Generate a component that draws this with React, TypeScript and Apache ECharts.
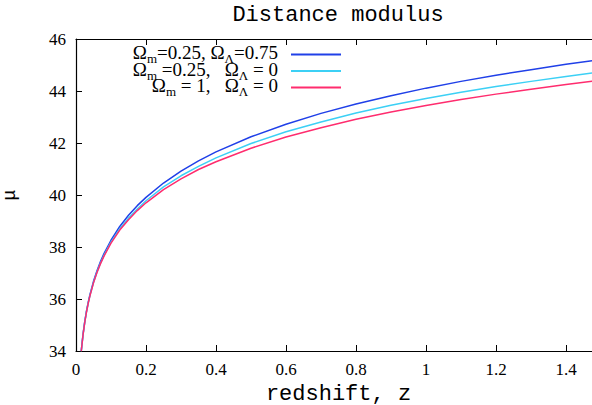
import React, { useEffect, useRef } from "react";
import * as echarts from "echarts";

// redshift samples
const redshift = [0.015, 0.02, 0.025, 0.03, 0.035, 0.04, 0.05, 0.06, 0.07, 0.08, 0.1, 0.125, 0.15, 0.175, 0.2, 0.25, 0.3, 0.35, 0.4, 0.5, 0.6, 0.7, 0.8, 0.9, 1.0, 1.1, 1.2, 1.3, 1.4, 1.5];
// distance modulus
const muFlatLambda = [34.0, 34.64, 35.13, 35.54, 35.88, 36.18, 36.68, 37.09, 37.44, 37.75, 38.26, 38.79, 39.22, 39.59, 39.91, 40.46, 40.92, 41.31, 41.66, 42.24, 42.72, 43.14, 43.5, 43.82, 44.11, 44.37, 44.61, 44.82, 45.03, 45.21];
const muOpen = [33.99, 34.61, 35.11, 35.51, 35.85, 36.14, 36.63, 37.04, 37.38, 37.68, 38.19, 38.7, 39.11, 39.46, 39.78, 40.31, 40.74, 41.1, 41.43, 41.98, 42.43, 42.81, 43.15, 43.45, 43.71, 43.95, 44.17, 44.37, 44.56, 44.74];
const muEdS = [33.99, 34.61, 35.1, 35.5, 35.84, 36.13, 36.62, 37.02, 37.36, 37.65, 38.15, 38.65, 39.05, 39.4, 39.7, 40.21, 40.62, 40.98, 41.28, 41.8, 42.23, 42.59, 42.91, 43.19, 43.44, 43.67, 43.88, 44.07, 44.25, 44.42];

const seriesNames = ["lcdm", "open", "eds"];
const legendLabels: Record<string, string> = {
  lcdm: "{o|Ω}{s|m}{o|=0.25, }{o|Ω}{s|Λ}{o|=0.75}",
  open: "{o|Ω}{s|m}{o| =0.25,   }{o|Ω}{s|Λ}{o| = 0}",
  eds: "{o|Ω}{s|m}{o| = 1,   }{o|Ω}{s|Λ}{o| = 0}",
};
const colors = ["#2040e8", "#3cd0f5", "#ff2c6e"];

const xMin = 0;
const xMax = 1.5;
const xStep = 0.2;
const yMin = 34;
const yMax = 46;
const yStep = 2;

const serif = "Liberation Serif";
const mono = "Liberation Mono";

export default function App() {
  const ref = useRef<HTMLDivElement>(null);
  useEffect(() => {
    if (!ref.current) return;
    const chart = echarts.init(ref.current, undefined, { renderer: "svg" });
    const allMu = [muFlatLambda, muOpen, muEdS];
    chart.setOption({
      animation: false,
      backgroundColor: "#ffffff",
      title: {
        text: "Distance modulus",
        left: 338,
        top: 4,
        padding: 0,
        textAlign: "center",
        textStyle: { fontFamily: mono, fontSize: 22, fontWeight: "normal", color: "#000" },
      },
      legend: {
        data: seriesNames,
        orient: "vertical",
        align: "right",
        right: 251,
        top: 43,
        padding: 0,
        itemGap: -6.5,
        itemWidth: 50,
        itemHeight: 2,
        icon: "rect",
        selectedMode: false,
        formatter: (name: string) => legendLabels[name],
        textStyle: {
          color: "#000",
          fontFamily: serif,
          fontSize: 19,
          padding: [0, 8, 0, 0],
          rich: {
            o: { fontSize: 19, lineHeight: 14, padding: [0, 0, 4, 0], fontFamily: serif, color: "#000" },
            s: { fontSize: 13, lineHeight: 10, padding: [8, 0, 0, 0], fontFamily: serif, color: "#000" },
          },
        },
      },
      grid: { left: 76, top: 39, width: 525, height: 312, containLabel: false, outerBoundsMode: "none" },
      xAxis: [
        {
          type: "value",
          min: xMin,
          max: xMax,
          interval: xStep,
          name: "redshift, z",
          nameLocation: "middle",
          nameGap: 32,
          nameTextStyle: { fontFamily: mono, fontSize: 22, color: "#000" },
          axisLine: { show: true, onZero: false, lineStyle: { color: "#000", width: 1.2 } },
          axisTick: { show: true, inside: true, length: 6, lineStyle: { color: "#000" } },
          axisLabel: { showMaxLabel: false, margin: 10, fontFamily: serif, fontSize: 17, color: "#000" },
          splitLine: { show: false },
        },
        {
          type: "value",
          position: "top",
          min: xMin,
          max: xMax,
          interval: xStep,
          axisLine: { show: true, onZero: false, lineStyle: { color: "#000", width: 1.2 } },
          axisTick: { show: true, inside: true, length: 6, lineStyle: { color: "#000" } },
          axisLabel: { show: false },
          splitLine: { show: false },
        },
      ],
      yAxis: {
        type: "value",
        min: yMin,
        max: yMax,
        interval: yStep,
        name: "μ",
        nameLocation: "middle",
        nameGap: 57,
        nameTextStyle: { fontFamily: mono, fontSize: 18, color: "#000" },
        axisLine: { show: true, onZero: false, lineStyle: { color: "#000", width: 1.2 } },
        axisTick: { show: true, inside: true, length: 6, lineStyle: { color: "#000" } },
        axisLabel: { margin: 10, fontFamily: serif, fontSize: 17, color: "#000" },
        splitLine: { show: false },
      },
      series: seriesNames.map((name, i) => ({
        name,
        type: "line",
        xAxisIndex: 0,
        data: redshift.map((z, k) => [z, allMu[i][k]]),
        showSymbol: false,
        symbol: "none",
        smooth: false,
        clip: true,
        color: colors[i],
        lineStyle: { color: colors[i], width: 1.5 },
      })),
    });
    return () => chart.dispose();
  }, []);
  return <div ref={ref} style={{ width: 592, height: 405, position: "absolute", left: 0, top: 0 }} />;
}
